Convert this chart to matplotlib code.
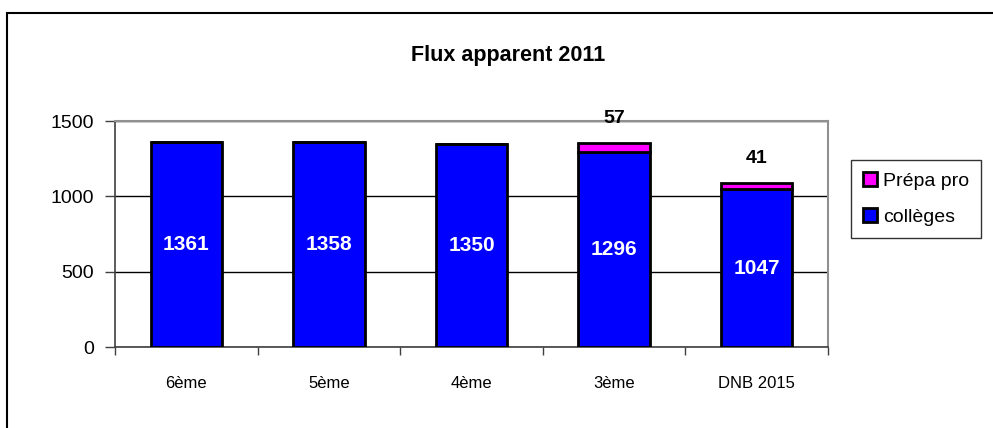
import matplotlib
matplotlib.use("Agg")
from matplotlib import pyplot as plt
from matplotlib.patches import Rectangle
import numpy as np

plt.rcParams['font.family'] = ['Liberation Sans', 'DejaVu Sans']

categories = ["6ème", "5ème", "4ème", "3ème", "DNB 2015"]
colleges = [1361, 1358, 1350, 1296, 1047]
prepa_pro = [0, 0, 0, 57, 41]
yticks = [0, 500, 1000, 1500]

W, H = 993, 428
fig = plt.figure(figsize=(W / 100, H / 100), dpi=100)
ax = fig.add_axes([115 / W, 1 - 347 / H, (828 - 115) / W, (347 - 121) / H])

x = np.arange(len(categories))
ax.bar(x, colleges, width=0.5, color="#0000ff", edgecolor="black", linewidth=2,
       label="collèges", zorder=3)
ax.bar(x, prepa_pro, width=0.5, bottom=colleges, color="#ff00ff",
       edgecolor="black", linewidth=2, label="Prépa pro", zorder=3)

# white labels inside the blue bars, black ones above the pink segments
for i, v in enumerate(colleges):
    ax.text(x[i], v / 2, str(v), ha="center", va="center", color="white",
            fontsize=15, fontweight="bold", zorder=4)
for i, v in enumerate(prepa_pro):
    if v:
        ax.annotate(str(v), (x[i], colleges[i] + v), xytext=(0, 18),
                    textcoords="offset points", ha="center", va="center",
                    color="black", fontsize=14, fontweight="bold", zorder=4,
                    annotation_clip=False)

ax.set_xlim(-0.5, len(categories) - 0.5)
ax.set_ylim(0, 1500)
ax.set_yticks(yticks)
ax.set_yticklabels([str(t) for t in yticks], fontsize=14)
ax.set_xticks(x)
ax.set_xticklabels(categories, fontsize=12)
ax.tick_params(axis="x", length=0, pad=21)
ax.set_xticks(np.arange(len(categories) + 1) - 0.5, minor=True)
ax.tick_params(axis="x", which="minor", length=6, width=1, color="#404040")
ax.tick_params(axis="y", length=7, width=1, color="#404040", pad=8)
ax.grid(axis="y", color="black", linewidth=1, zorder=0)

for side in ["top", "right"]:
    ax.spines[side].set_color("#909090")
    ax.spines[side].set_linewidth(1.5)
for side in ["left", "bottom"]:
    ax.spines[side].set_color("#404040")
    ax.spines[side].set_linewidth(1.2)

fig.text(508 / W, 1 - 55 / H, "Flux apparent 2011", ha="center", va="center",
         fontsize=15.5, fontweight="bold")

handles, labels = ax.get_legend_handles_labels()
leg = fig.legend(handles[::-1], labels[::-1], loc="upper left",
                 bbox_to_anchor=(851 / W, 1 - 160 / H), fontsize=14,
                 frameon=True, fancybox=False, edgecolor="black",
                 handlelength=0.75, handleheight=0.75, handletextpad=0.3,
                 labelspacing=0.95, borderpad=0.6, borderaxespad=0)
leg.get_frame().set_linewidth(1)

# outer chart-area border (right and bottom edges fall outside the image)
fig.patches.append(Rectangle((7 / W, -0.1), 1.2, 1 - 13 / H + 0.1,
                             transform=fig.transFigure, fill=False,
                             edgecolor="black", linewidth=1.5))

fig.savefig("out.png", dpi=100)
